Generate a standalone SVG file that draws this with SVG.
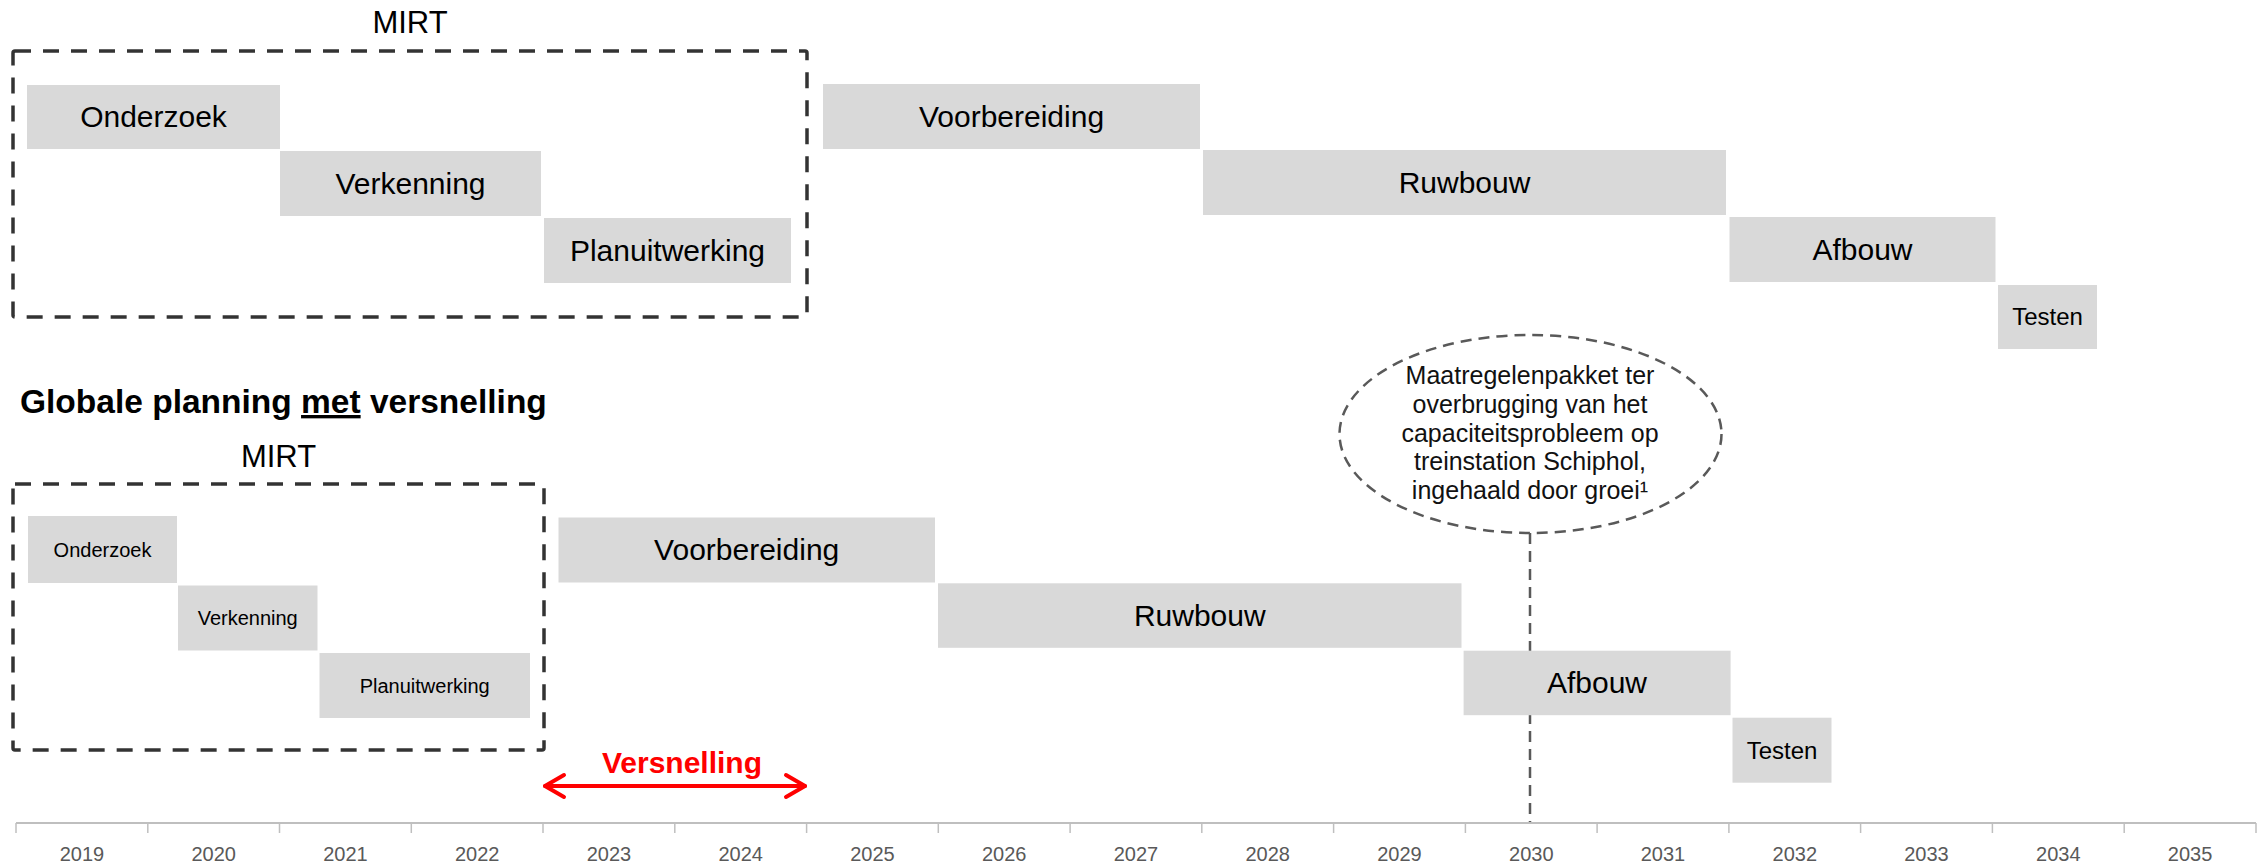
<svg xmlns="http://www.w3.org/2000/svg" width="2267" height="863" viewBox="0 0 2267 863">
<style>
.bar{fill:#d9d9d9}
.lbl{font-family:"Liberation Sans",Arial,sans-serif;font-size:30px;fill:#000;text-anchor:middle}
.sm{font-size:20px}
.md{font-size:24px}
.mirt{font-family:"Liberation Sans",Arial,sans-serif;font-size:31px;fill:#000;text-anchor:middle}
.box{fill:none;stroke:#333;stroke-width:3.5;stroke-dasharray:16 12}
.yr{font-family:"Liberation Sans",Arial,sans-serif;font-size:20px;fill:#595959;text-anchor:middle}
.tick{stroke:#bfbfbf;stroke-width:1.5}
.note{font-family:"Liberation Sans",Arial,sans-serif;font-size:25px;fill:#111;text-anchor:middle}
.dash{fill:none;stroke:#595959;stroke-width:2.5;stroke-dasharray:11 7}
.red{fill:none;stroke:#ff0000;stroke-width:4;stroke-linecap:round;stroke-linejoin:round}
</style>
<rect width="2267" height="863" fill="#fff"/>

<!-- connectors -->
<g id="connectors">
  <line class="dash" x1="1530" y1="533" x2="1530" y2="823"/>
</g>

<!-- Upper chart -->
<g id="mirt-top">
  <text class="mirt" x="410" y="33">MIRT</text>
  <rect class="box" x="13" y="51" width="794" height="266" rx="2"/>
</g>
<g id="top-onderzoek"><rect class="bar" x="27" y="85" width="253" height="64"/><text class="lbl" x="153.5" y="127">Onderzoek</text></g>
<g id="top-verkenning"><rect class="bar" x="280" y="151" width="261" height="65"/><text class="lbl" x="410.5" y="193.5">Verkenning</text></g>
<g id="top-planuitwerking"><rect class="bar" x="544" y="218" width="247" height="65"/><text class="lbl" x="667.5" y="260.5">Planuitwerking</text></g>
<g id="top-voorbereiding"><rect class="bar" x="823" y="84" width="377" height="65"/><text class="lbl" x="1011.5" y="126.5">Voorbereiding</text></g>
<g id="top-ruwbouw"><rect class="bar" x="1203" y="150" width="523" height="65"/><text class="lbl" x="1464.5" y="192.5">Ruwbouw</text></g>
<g id="top-afbouw"><rect class="bar" x="1729.5" y="217" width="266" height="65"/><text class="lbl" x="1862.5" y="259.5">Afbouw</text></g>
<g id="top-testen"><rect class="bar" x="1998" y="285" width="99" height="64"/><text class="lbl md" x="2047.5" y="325">Testen</text></g>

<!-- Title -->
<g id="title">
  <text x="20" y="413" font-family="'Liberation Sans',Arial,sans-serif" font-size="33.5" font-weight="bold" fill="#000">Globale planning <tspan text-decoration="underline">met</tspan> versnelling</text>
</g>

<!-- Lower chart -->
<g id="mirt-bottom">
  <text class="mirt" x="278.5" y="467">MIRT</text>
  <rect class="box" x="13" y="484" width="531" height="266" rx="2"/>
</g>
<g id="bot-onderzoek"><rect class="bar" x="28" y="516" width="149" height="67"/><text class="lbl sm" x="102.5" y="557">Onderzoek</text></g>
<g id="bot-verkenning"><rect class="bar" x="178" y="585.5" width="139.5" height="65"/><text class="lbl sm" x="247.7" y="625">Verkenning</text></g>
<g id="bot-planuitwerking"><rect class="bar" x="319.5" y="653" width="210.5" height="65"/><text class="lbl sm" x="424.7" y="693">Planuitwerking</text></g>
<g id="bot-voorbereiding"><rect class="bar" x="558.5" y="517.5" width="376.5" height="65"/><text class="lbl" x="746.7" y="560">Voorbereiding</text></g>
<g id="bot-ruwbouw"><rect class="bar" x="938" y="583.3" width="523.5" height="64.5"/><text class="lbl" x="1199.8" y="625.5">Ruwbouw</text></g>
<g id="bot-afbouw"><rect class="bar" x="1463.6" y="650.7" width="267" height="64.5"/><text class="lbl" x="1597" y="692.5">Afbouw</text></g>
<g id="bot-testen"><rect class="bar" x="1732.5" y="717.7" width="99" height="65"/><text class="lbl md" x="1782" y="758.5">Testen</text></g>

<!-- Note ellipse -->
<g id="note">
  <ellipse class="dash" cx="1530.5" cy="434" rx="191" ry="99"/>
  <text class="note" x="1530" y="384">Maatregelenpakket ter</text>
  <text class="note" x="1530" y="412.8">overbrugging van het</text>
  <text class="note" x="1530" y="441.5">capaciteitsprobleem op</text>
  <text class="note" x="1530" y="470.3">treinstation Schiphol,</text>
  <text class="note" x="1530" y="499">ingehaald door groei¹</text>
</g>

<!-- Versnelling -->
<g id="versnelling">
  <text x="682" y="773" font-family="'Liberation Sans',Arial,sans-serif" font-size="30" font-weight="bold" fill="#ff0000" text-anchor="middle">Versnelling</text>
  <line class="red" x1="545" y1="786" x2="805" y2="786"/>
  <polyline class="red" points="564,775 545,786 564,797"/>
  <polyline class="red" points="786,775 805,786 786,797"/>
</g>

<!-- Axis -->
<g id="axis">
  <line x1="16" y1="823" x2="2256" y2="823" stroke="#bfbfbf" stroke-width="2"/>
  <line class="tick" x1="16" y1="823" x2="16" y2="833"/>
  <line class="tick" x1="147.8" y1="823" x2="147.8" y2="833"/>
  <line class="tick" x1="279.5" y1="823" x2="279.5" y2="833"/>
  <line class="tick" x1="411.3" y1="823" x2="411.3" y2="833"/>
  <line class="tick" x1="543" y1="823" x2="543" y2="833"/>
  <line class="tick" x1="674.8" y1="823" x2="674.8" y2="833"/>
  <line class="tick" x1="806.6" y1="823" x2="806.6" y2="833"/>
  <line class="tick" x1="938.3" y1="823" x2="938.3" y2="833"/>
  <line class="tick" x1="1070.1" y1="823" x2="1070.1" y2="833"/>
  <line class="tick" x1="1201.8" y1="823" x2="1201.8" y2="833"/>
  <line class="tick" x1="1333.6" y1="823" x2="1333.6" y2="833"/>
  <line class="tick" x1="1465.4" y1="823" x2="1465.4" y2="833"/>
  <line class="tick" x1="1597.1" y1="823" x2="1597.1" y2="833"/>
  <line class="tick" x1="1728.9" y1="823" x2="1728.9" y2="833"/>
  <line class="tick" x1="1860.6" y1="823" x2="1860.6" y2="833"/>
  <line class="tick" x1="1992.4" y1="823" x2="1992.4" y2="833"/>
  <line class="tick" x1="2124.2" y1="823" x2="2124.2" y2="833"/>
  <line class="tick" x1="2256" y1="823" x2="2256" y2="833"/>
  <text class="yr" x="81.9" y="861">2019</text>
  <text class="yr" x="213.7" y="861">2020</text>
  <text class="yr" x="345.4" y="861">2021</text>
  <text class="yr" x="477.2" y="861">2022</text>
  <text class="yr" x="608.9" y="861">2023</text>
  <text class="yr" x="740.7" y="861">2024</text>
  <text class="yr" x="872.5" y="861">2025</text>
  <text class="yr" x="1004.2" y="861">2026</text>
  <text class="yr" x="1136" y="861">2027</text>
  <text class="yr" x="1267.7" y="861">2028</text>
  <text class="yr" x="1399.5" y="861">2029</text>
  <text class="yr" x="1531.3" y="861">2030</text>
  <text class="yr" x="1663" y="861">2031</text>
  <text class="yr" x="1794.8" y="861">2032</text>
  <text class="yr" x="1926.5" y="861">2033</text>
  <text class="yr" x="2058.3" y="861">2034</text>
  <text class="yr" x="2190.1" y="861">2035</text>
</g>
</svg>
